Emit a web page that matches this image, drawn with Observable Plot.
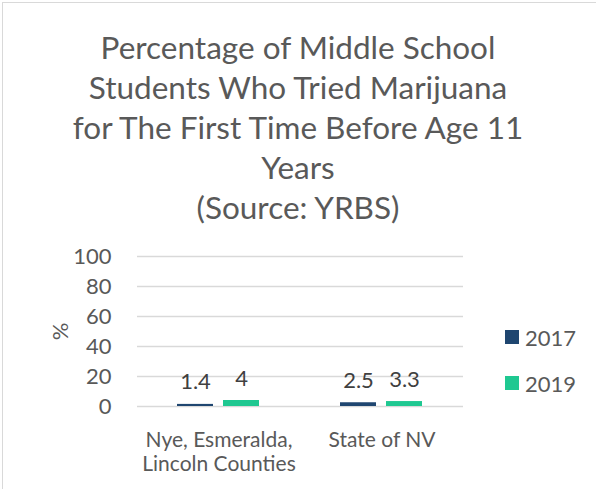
<!DOCTYPE html>
<html>
<head>
<meta charset="utf-8">
<script src="https://cdn.jsdelivr.net/npm/d3@7"></script>
<script src="https://cdn.jsdelivr.net/npm/@observablehq/plot@0.6"></script>
<style>
  html, body { margin: 0; padding: 0; background: #fff; }
  #wrap { position: relative; width: 596px; height: 489px; overflow: hidden; font-family: Lato, "Open Sans", sans-serif; font-weight: 400; }
  #frame { position: absolute; left: 2px; top: 2px; width: 600px; height: 600px; border: 1px solid #d9d9d9; box-sizing: border-box; }
  #title { position: absolute; left: 0; top: 27px; width: 596px; text-align: center; font-size: 31.5px; line-height: 40px; color: #595959; }
  #chart { position: absolute; left: 0; top: 240px; }
  #legend { position: absolute; left: 505px; top: 322px; font-size: 22px; color: #595959; }
  .item { display: flex; align-items: center; height: 30px; margin-bottom: 16px; }
  .sw { width: 14px; height: 14px; margin-right: 6px; }
</style>
</head>
<body>
<div id="wrap">
  <div id="frame"></div>
  <div id="title"></div>
  <div id="chart"></div>
  <div id="legend"></div>
</div>
<script>
const titleLines = ["Percentage of Middle School", "Students Who Tried Marijuana", "for The First Time Before Age 11", "Years", "(Source: YRBS)"];
const categories = ["Nye, Esmeralda,\nLincoln Counties", "State of NV"];
const years = ["2017", "2019"];
const values2017 = [1.4, 2.5];
const values2019 = [4, 3.3];
const yTicks = [0, 20, 40, 60, 80, 100];
const colors = ["#1f4670", "#1fc891"];

document.getElementById("title").innerHTML = titleLines.join("<br>");

const data = [];
categories.forEach((c, i) => {
  data.push({cat: c, year: years[0], value: values2017[i]});
  data.push({cat: c, year: years[1], value: values2019[i]});
});

const chart = Plot.plot({
  width: 596,
  height: 249,
  marginTop: 16,
  marginBottom: 83,
  marginLeft: 137,
  marginRight: 133,
  style: {fontFamily: "Lato, 'Open Sans', sans-serif", fontWeight: 400, fontSize: "20px", color: "#595959", background: "transparent"},
  fx: {domain: categories, padding: 0, label: null},
  x: {domain: years, paddingInner: 0.217, paddingOuter: 0.88, axis: null},
  y: {domain: [0, 100], ticks: yTicks, label: "%", labelAnchor: "center", labelArrow: "none", labelOffset: 85},
  color: {domain: years, range: colors},
  marks: [
    Plot.ruleY(yTicks, {stroke: "#d9d9d9", strokeWidth: 1.5}),
    Plot.barY(data, {fx: "cat", x: "year", y: "value", fill: "year"}),
    Plot.text(data, {fx: "cat", x: "year", y: "value", text: d => String(d.value), dy: -22, fill: "#404040", fontSize: 22}),
    Plot.axisY({ticks: yTicks, tickSize: 0, tickPadding: 26, fontSize: 22, label: "%", labelAnchor: "center", labelArrow: "none", labelOffset: 85}),
    Plot.axisFx({anchor: "bottom", tickSize: 0, tickPadding: 23, fontSize: 21, label: null, lineHeight: 1.15})
  ]
});
document.getElementById("chart").appendChild(chart);

const legend = document.getElementById("legend");
years.forEach((y, i) => {
  const it = document.createElement("div");
  it.className = "item";
  it.innerHTML = `<div class="sw" style="background:${colors[i]}"></div><span>${y}</span>`;
  legend.appendChild(it);
});
</script>
</body>
</html>
